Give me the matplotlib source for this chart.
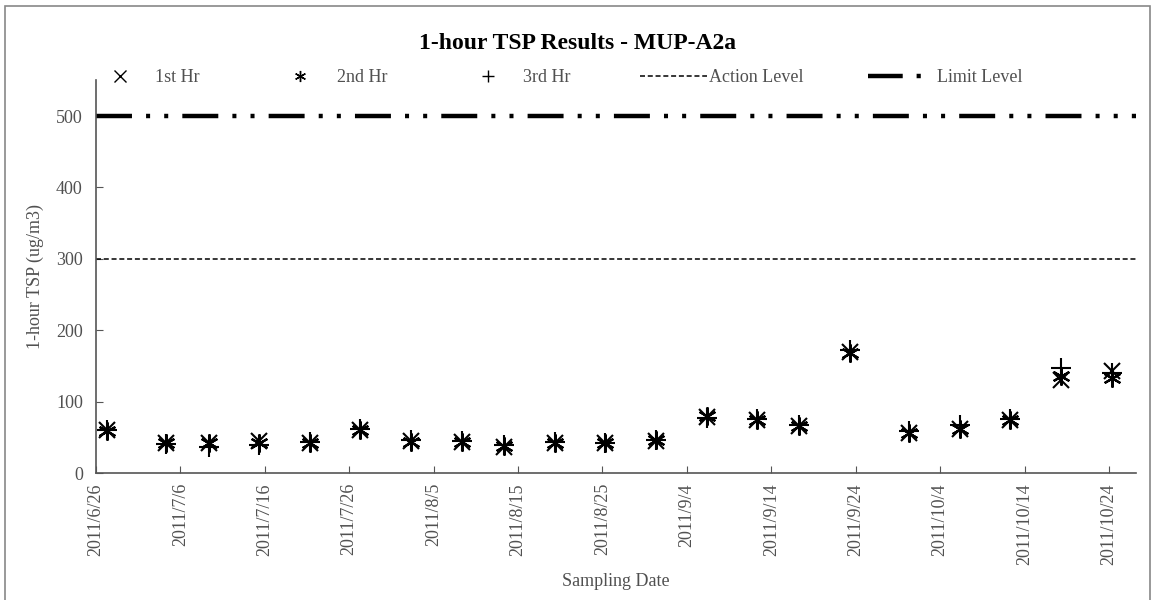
"""Resultados TSP 1 hora - MUP-A2a (gráfico de dispersão por data de amostragem)."""
import matplotlib
matplotlib.use('Agg')
import matplotlib.pyplot as plt
from matplotlib.lines import Line2D
from matplotlib.patches import Rectangle
import pandas as pd

plt.rcParams['font.family'] = ['Liberation Serif', 'DejaVu Serif']
plt.rcParams['lines.scale_dashes'] = False

# ── Dados ─────────────────────────────────────────────────────────────────

datas = ['2011-06-27', '2011-07-04', '2011-07-09', '2011-07-15', '2011-07-21',
         '2011-07-27', '2011-08-02', '2011-08-08', '2011-08-13', '2011-08-19',
         '2011-08-25', '2011-08-31', '2011-09-06', '2011-09-12', '2011-09-17',
         '2011-09-23', '2011-09-30', '2011-10-06', '2011-10-12', '2011-10-18',
         '2011-10-24']
hr1 = [60, 42, 42, 45, 43, 60, 45, 44, 37, 43, 42, 45, 79, 75, 66, 170, 57, 62, 75, 131, 143]
hr2 = [59, 42, 42, 42, 43, 60, 44, 44, 38, 43, 42, 46, 80, 75, 66, 168, 56, 62, 74, 136, 134]
hr3 = [60, 41, 37, 39, 44, 62, 47, 45, 39, 44, 42, 47, 77, 76, 68, 172, 59, 68, 76, 148, 141]
action_level = 300
limit_level = 500

df = pd.DataFrame({'data': pd.to_datetime(datas), 'hr1': hr1, 'hr2': hr2, 'hr3': hr3})
# Excel desenha o ponto um pouco depois da marca do dia
df['x'] = df['data'] + pd.Timedelta(hours=8)

ini = pd.Timestamp('2011-06-26')
fim = ini + pd.Timedelta(days=123.2)
ticks = pd.date_range(ini, '2011-10-24', freq='10D')

# ── Figura ────────────────────────────────────────────────────────────────

cinza = '#505050'
action_dash = (0, (3.6, 2.0))
limit_dash = (0, (25.9, 10.15, 2.9, 10.15, 2.9, 10.15))

fig = plt.figure(figsize=(11.55, 6), dpi=100)
ax = fig.add_axes([0.0831, 0.2112, 0.9004, 0.655])

ax.plot([ini, fim], [limit_level] * 2, color='black', lw=3.2, linestyle=limit_dash,
        dash_capstyle='butt')
ax.plot([ini, fim], [action_level] * 2, color='black', lw=1.1, linestyle=action_dash)

ax.plot(df['x'], df['hr1'], linestyle='none', marker='x', ms=11, mew=1.5, color='black')
ax.plot(df['x'], df['hr2'], linestyle='none', marker=(6, 2, 0), ms=13, mew=1.6, color='black')
ax.plot(df['x'], df['hr3'], linestyle='none', marker='+', ms=14, mew=1.5, color='black')

ax.set_xlim(ini, fim)
ax.set_ylim(0, 550)
ax.set_yticks(range(0, 501, 100))
ax.set_xticks(ticks)
ax.set_xticklabels([f'{d.year}/{d.month}/{d.day}' for d in ticks], rotation=90)

for s in ['top', 'right']:
    ax.spines[s].set_visible(False)
for s in ['left', 'bottom']:
    ax.spines[s].set_color('#555555')
    ax.spines[s].set_linewidth(1.2)
ax.tick_params(direction='in', length=5, color='#555555', labelsize=13, labelcolor=cinza)
ax.tick_params(axis='y', pad=9.5)
ax.tick_params(axis='x', pad=7)

ax.set_ylabel('1-hour TSP (ug/m3)', fontsize=13, color=cinza, labelpad=8.5)
ax.set_xlabel('Sampling Date', fontsize=13, color=cinza, labelpad=6)

fig.text(0.5, 0.928, '1-hour TSP Results - MUP-A2a', ha='center', va='center',
         fontsize=17, fontweight='bold')

# ── Legenda (uma entrada por vez, posições como no original) ─────────────

entradas = [
    (Line2D([], [], linestyle='none', marker='x', ms=8, mew=1, color='black'),
     '1st Hr', 111, 1.0, 1.44),
    (Line2D([], [], linestyle='none', marker=(6, 2, 0), ms=8, mew=1, color='black'),
     '2nd Hr', 291, 1.0, 1.55),
    (Line2D([], [], linestyle='none', marker='+', ms=9, mew=1, color='black'),
     '3rd Hr', 479, 1.0, 1.44),
    (Line2D([], [], color='black', lw=1.1, linestyle=action_dash),
     'Action Level', 640, 3.7, 0.1),
    (Line2D([], [], color='black', lw=3.2, linestyle=(0, (25, 10, 3, 30)),
            dash_capstyle='butt'),
     'Limit Level', 868, 3.15, 0.66),
]
for h, txt, x_px, hl, pad in entradas:
    leg = fig.legend([h], [txt], loc='center left',
                     bbox_to_anchor=(x_px / 1155, 1 - 78 / 600),
                     frameon=False, fontsize=13, handlelength=hl, handletextpad=pad,
                     borderpad=0, borderaxespad=0, labelcolor=cinza)

# Moldura do gráfico
fig.patches.append(Rectangle((0.004, -0.01), 0.992, 1.0, transform=fig.transFigure,
                             fill=False, edgecolor='#888888', lw=1.2))

plt.savefig('out.png', dpi=100)
plt.close()
